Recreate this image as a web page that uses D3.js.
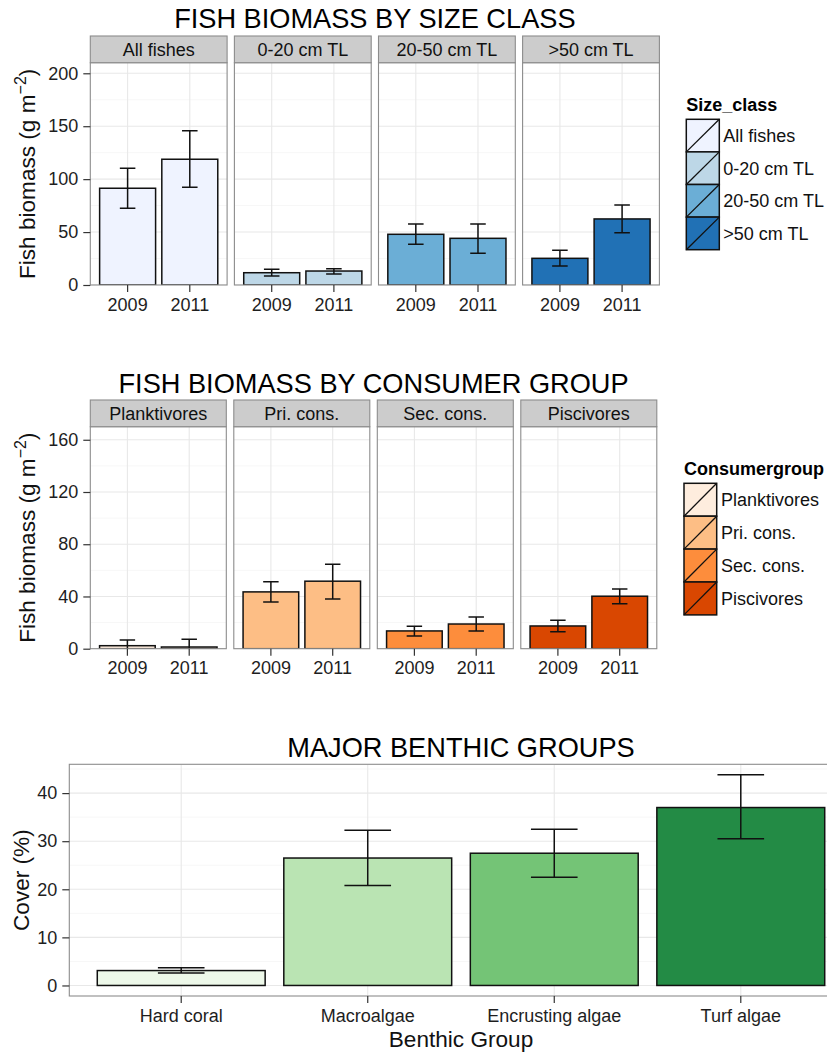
<!DOCTYPE html>
<html>
<head>
<meta charset="utf-8">
<script src="https://cdn.jsdelivr.net/npm/d3@7"></script>
<style>
  html, body { margin: 0; padding: 0; background: #ffffff; }
  svg { display: block; overflow: hidden; }
  text { font-family: "Liberation Sans", Arial, sans-serif; }
</style>
</head>
<body>
<svg id="chart" width="827" height="1053"></svg>
<script>
// ---------------- DATA ----------------
const years = ["2009", "2011"];

const sizeClasses = ["All fishes", "0-20 cm TL", "20-50 cm TL", ">50 cm TL"];
const sizeMean2009 = [91.4, 11.6, 47.9, 25.2];
const sizeMean2011 = [118.8, 13.2, 44.1, 62.4];
const sizeLow2009  = [72.5, 8.5, 38.5, 18.0];
const sizeHigh2009 = [110.3, 14.8, 57.7, 32.8];
const sizeLow2011  = [92.3, 10.4, 30.0, 49.4];
const sizeHigh2011 = [145.6, 15.4, 57.7, 75.6];
const sizeTicks = [0, 50, 100, 150, 200];
const sizeColors = ["#EFF3FF", "#BDD7E7", "#6BAED6", "#2171B5"];

const consumerGroups = ["Planktivores", "Pri. cons.", "Sec. cons.", "Piscivores"];
const consMean2009 = [2.3, 43.5, 13.6, 17.4];
const consMean2011 = [1.3, 51.7, 18.9, 40.2];
const consLow2009  = [-2.1, 35.8, 9.7, 13.0];
const consHigh2009 = [6.7, 51.2, 17.2, 21.8];
const consLow2011  = [-4.6, 38.1, 13.6, 34.5];
const consHigh2011 = [7.2, 64.7, 24.3, 45.8];
const consTicks = [0, 40, 80, 120, 160];
const consColors = ["#FEEDDE", "#FDBE85", "#FD8D3C", "#D94701"];

const benthicGroups = ["Hard coral", "Macroalgae", "Encrusting algae", "Turf algae"];
const benthicMean = [3.1, 26.5, 27.5, 37.0];
const benthicLow  = [2.6, 20.8, 22.5, 30.5];
const benthicHigh = [3.7, 32.3, 32.5, 43.8];
const benthicTicks = [0, 10, 20, 30, 40];
const benthicColors = ["#EDF8E9", "#BAE4B3", "#74C476", "#238B45"];

// ---------------- STYLE ----------------
const FONT_TITLE = 27.2, FONT_AXIS_TITLE = 22.6, FONT_TEXT = 18;
const TEXT_COL = "#111", TICK_TEXT_COL = "#1e1e1e";
const BORDER_COL = "#8c8c8c", STRIP_FILL = "#cccccc";
const GRID_MAJOR = "#e8e8e8", GRID_MINOR = "#f7f7f7";
const MARK_STROKE = 1.5;

const svg = d3.select("#chart");
let clipId = 0;

function drawGrid(g, x, y, cats, ticks, width, height, domain) {
  const step = ticks[1] - ticks[0];
  const minors = [];
  for (let v = ticks[0] - step / 2; v <= domain[1]; v += step) {
    if (v >= domain[0] && v <= domain[1]) minors.push(v);
  }
  g.selectAll(".gmin").data(minors).join("line")
    .attr("x1", 0).attr("x2", width)
    .attr("y1", d => y(d)).attr("y2", d => y(d))
    .attr("stroke", GRID_MINOR).attr("stroke-width", 1);
  g.selectAll(".gmaj").data(ticks.filter(t => t >= domain[0] && t <= domain[1])).join("line")
    .attr("x1", 0).attr("x2", width)
    .attr("y1", d => y(d)).attr("y2", d => y(d))
    .attr("stroke", GRID_MAJOR).attr("stroke-width", 1.1);
  g.selectAll(".gv").data(cats).join("line")
    .attr("x1", d => x(d) + x.bandwidth() / 2).attr("x2", d => x(d) + x.bandwidth() / 2)
    .attr("y1", 0).attr("y2", height)
    .attr("stroke", GRID_MAJOR).attr("stroke-width", 1.1);
}

function drawBars(g, x, y, cats, means, lows, highs, colorFn) {
  const data = cats.map((c, i) => ({ c, i, m: means[i], lo: lows[i], hi: highs[i] }));
  const capW = x.bandwidth() * 0.25 / 0.9;
  g.selectAll(".bar").data(data).join("rect")
    .attr("x", d => x(d.c)).attr("width", x.bandwidth())
    .attr("y", d => y(Math.max(0, d.m))).attr("height", d => Math.abs(y(0) - y(d.m)))
    .attr("fill", d => colorFn(d)).attr("stroke", "#111").attr("stroke-width", MARK_STROKE);
  const eb = g.selectAll(".eb").data(data).join("g")
    .attr("transform", d => `translate(${x(d.c) + x.bandwidth() / 2},0)`);
  eb.append("line").attr("x1", 0).attr("x2", 0)
    .attr("y1", d => y(d.lo)).attr("y2", d => y(d.hi))
    .attr("stroke", "#111").attr("stroke-width", MARK_STROKE);
  eb.append("line").attr("x1", -capW / 2).attr("x2", capW / 2)
    .attr("y1", d => y(d.hi)).attr("y2", d => y(d.hi))
    .attr("stroke", "#111").attr("stroke-width", MARK_STROKE);
  eb.append("line").attr("x1", -capW / 2).attr("x2", capW / 2)
    .attr("y1", d => y(d.lo)).attr("y2", d => y(d.lo))
    .attr("stroke", "#111").attr("stroke-width", MARK_STROKE);
}

function styleAxis(ax) {
  ax.select(".domain").remove();
  ax.selectAll(".tick line").attr("stroke", "#333").attr("stroke-width", 1.2);
  ax.selectAll(".tick text").attr("fill", TICK_TEXT_COL)
    .style("font-size", FONT_TEXT + "px")
    .style("font-family", '"Liberation Sans", Arial, sans-serif');
}

function yAxisTitle(x, cy, parts) {
  const t = svg.append("text")
    .attr("transform", `translate(${x},${cy}) rotate(-90)`)
    .attr("text-anchor", "middle")
    .attr("fill", TEXT_COL)
    .style("font-size", FONT_AXIS_TITLE + "px");
  parts(t);
}

function biomassLabel(t) {
  t.append("tspan").text("Fish biomass (g m");
  t.append("tspan").attr("dy", -9).style("font-size", "16px").text("\u22122");
  t.append("tspan").attr("dy", 9).text(")");
}

function drawFacet(cfg) {
  const { left, panelW, gap, stripTop, stripH, panelBottom, domain, ticks,
          facets, m09, m11, lo09, hi09, lo11, hi11, colors, title, titleY,
          legendTitle, legendX, legendTitleY, keyTop, keyW, keyH, labelX } = cfg;
  const panelTop = stripTop + stripH;
  const height = panelBottom - panelTop;
  const y = d3.scaleLinear().domain(domain).range([height, 0]);
  const x = d3.scaleBand().domain(years).range([0, panelW]).paddingInner(0.1).paddingOuter(0.15);

  facets.forEach((f, i) => {
    const px = left + i * (panelW + gap);
    const g = svg.append("g").attr("transform", `translate(${px},${panelTop})`);
    const id = "clip" + (clipId++);
    g.append("clipPath").attr("id", id).append("rect")
      .attr("x", 0).attr("y", 0).attr("width", panelW).attr("height", height);
    g.append("rect").attr("width", panelW).attr("height", height).attr("fill", "#fff");
    const inner = g.append("g").attr("clip-path", `url(#${id})`);
    drawGrid(inner, x, y, years, ticks, panelW, height, domain);
    const means = [m09[i], m11[i]], lows = [lo09[i], lo11[i]], highs = [hi09[i], hi11[i]];
    drawBars(inner, x, y, years, means, lows, highs, () => colors[i]);
    g.append("rect").attr("width", panelW).attr("height", height)
      .attr("fill", "none").attr("stroke", BORDER_COL).attr("stroke-width", 1.1);
    // strip
    svg.append("rect").attr("x", px).attr("y", stripTop).attr("width", panelW).attr("height", stripH)
      .attr("fill", STRIP_FILL).attr("stroke", BORDER_COL).attr("stroke-width", 1.1);
    svg.append("text").attr("x", px + panelW / 2).attr("y", stripTop + stripH / 2 + 6.4)
      .attr("text-anchor", "middle").attr("fill", TEXT_COL)
      .style("font-size", FONT_TEXT + "px").text(f);
    // x axis
    const ax = g.append("g").attr("transform", `translate(0,${height})`)
      .call(d3.axisBottom(x).tickSize(7).tickPadding(6));
    styleAxis(ax);
    if (i === 0) {
      const ay = g.append("g").call(d3.axisLeft(y).tickValues(ticks).tickSize(7).tickPadding(5));
      styleAxis(ay);
    }
  });
  const right = left + facets.length * panelW + (facets.length - 1) * gap;
  svg.append("text").attr("x", (left + right) / 2).attr("y", titleY)
    .attr("text-anchor", "middle").attr("fill", "#000")
    .style("font-size", FONT_TITLE + "px").text(title);
  yAxisTitle(35, (panelTop + panelBottom) / 2, biomassLabel);

  // legend
  svg.append("text").attr("x", legendX).attr("y", legendTitleY)
    .attr("fill", "#000").style("font-size", FONT_TEXT + "px").style("font-weight", "bold")
    .text(legendTitle);
  const lg = svg.append("g");
  facets.forEach((f, i) => {
    const ky = keyTop + i * keyH;
    lg.append("rect").attr("x", legendX).attr("y", ky).attr("width", keyW).attr("height", keyH)
      .attr("fill", colors[i]).attr("stroke", "#111").attr("stroke-width", MARK_STROKE);
    lg.append("line").attr("x1", legendX).attr("y1", ky + keyH).attr("x2", legendX + keyW).attr("y2", ky)
      .attr("stroke", "#111").attr("stroke-width", 1.3);
    lg.append("text").attr("x", labelX).attr("y", ky + keyH / 2 + 6.4)
      .attr("fill", TEXT_COL).style("font-size", FONT_TEXT + "px").text(f);
  });
}

// ---------- Chart 1: size class ----------
drawFacet({
  left: 90.3, panelW: 136.8, gap: 7.3, stripTop: 36, stripH: 26.7, panelBottom: 285,
  domain: [0, 210], ticks: sizeTicks, facets: sizeClasses,
  m09: sizeMean2009, m11: sizeMean2011, lo09: sizeLow2009, hi09: sizeHigh2009,
  lo11: sizeLow2011, hi11: sizeHigh2011, colors: sizeColors,
  title: "FISH BIOMASS BY SIZE CLASS", titleY: 28.3,
  legendTitle: "Size_class", legendX: 686.3, legendTitleY: 110.5,
  keyTop: 119.3, keyW: 33, keyH: 32.6, labelX: 723.3
});

// ---------- Chart 2: consumer group ----------
drawFacet({
  left: 90.3, panelW: 136, gap: 7.5, stripTop: 400, stripH: 26.7, panelBottom: 648.7,
  domain: [0, 170], ticks: consTicks, facets: consumerGroups,
  m09: consMean2009, m11: consMean2011, lo09: consLow2009, hi09: consHigh2009,
  lo11: consLow2011, hi11: consHigh2011, colors: consColors,
  title: "FISH BIOMASS BY CONSUMER GROUP", titleY: 392.7,
  legendTitle: "Consumergroup", legendX: 684, legendTitleY: 474.5,
  keyTop: 483.3, keyW: 32.7, keyH: 32.9, labelX: 721
});

// ---------- Chart 3: benthic ----------
(function () {
  const left = 69.3, right = 852.7, top = 764.3, bottom = 996;
  const W = right - left, H = bottom - top;
  const lo = Math.min(0, d3.min(benthicLow)), hi = d3.max(benthicHigh);
  const pad = (hi - lo) * 0.05;
  const domain = [lo - pad, hi + pad];
  const y = d3.scaleLinear().domain(domain).range([H, 0]);
  const x = d3.scaleBand().domain(benthicGroups).range([0, W]).paddingInner(0.1).paddingOuter(0.15);
  const g = svg.append("g").attr("transform", `translate(${left},${top})`);
  const id = "clip" + (clipId++);
  g.append("clipPath").attr("id", id).append("rect").attr("width", W).attr("height", H);
  const inner = g.append("g").attr("clip-path", `url(#${id})`);
  drawGrid(inner, x, y, benthicGroups, benthicTicks, W, H, domain);
  drawBars(inner, x, y, benthicGroups, benthicMean, benthicLow, benthicHigh, d => benthicColors[d.i]);
  g.append("rect").attr("width", W).attr("height", H)
    .attr("fill", "none").attr("stroke", BORDER_COL).attr("stroke-width", 1.1);
  const ax = g.append("g").attr("transform", `translate(0,${H})`)
    .call(d3.axisBottom(x).tickSize(7).tickPadding(6));
  styleAxis(ax);
  const ay = g.append("g").call(d3.axisLeft(y).tickValues(benthicTicks).tickSize(7).tickPadding(5));
  styleAxis(ay);
  svg.append("text").attr("x", left + W / 2).attr("y", 757.3)
    .attr("text-anchor", "middle").attr("fill", "#000")
    .style("font-size", FONT_TITLE + "px").text("MAJOR BENTHIC GROUPS");
  svg.append("text").attr("x", left + W / 2).attr("y", 1046.5)
    .attr("text-anchor", "middle").attr("fill", TEXT_COL)
    .style("font-size", FONT_AXIS_TITLE + "px").text("Benthic Group");
  yAxisTitle(28.5, (top + bottom) / 2, t => t.text("Cover (%)"));
})();
</script>
</body>
</html>
